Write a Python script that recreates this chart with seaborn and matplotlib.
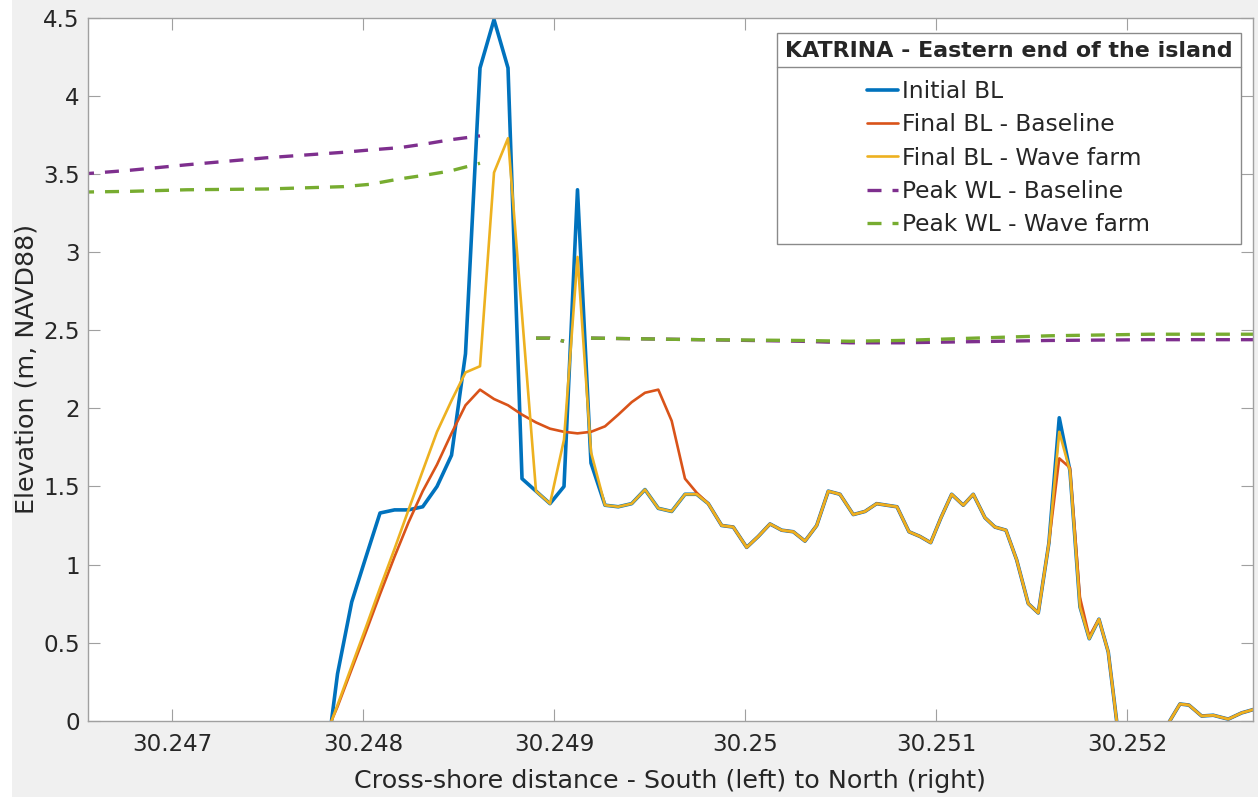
import numpy as np
import pandas as pd
import matplotlib
matplotlib.use("Agg")
import matplotlib.pyplot as plt
from matplotlib.lines import Line2D
from matplotlib.patches import Rectangle
from matplotlib.ticker import FuncFormatter, MultipleLocator
import seaborn as sns

# Cross-shore positions of the bed-level profile (latitude)
x_bl = [30.2477932, 30.2478665, 30.2479408, 30.2480157, 30.2480890, 30.2481649,
        30.2482382, 30.2483126, 30.2483874, 30.2484634, 30.2485366, 30.2486126,
        30.2486859, 30.2487592, 30.2488325, 30.2489058, 30.2489791, 30.2490524,
        30.2491230, 30.2491937, 30.2492670, 30.2493366, 30.2494068, 30.2494764,
        30.2495461, 30.2496162, 30.2496859, 30.2497471, 30.2498079, 30.2498780,
        30.2499387, 30.2500089, 30.2500696, 30.2501309, 30.2501921, 30.2502529,
        30.2503141, 30.2503754, 30.2504361, 30.2504974, 30.2505670, 30.2506283,
        30.2506895, 30.2507419, 30.2507958, 30.2508586, 30.2509162, 30.2509723,
        30.2510262, 30.2510822, 30.2511429, 30.2511953, 30.2512565, 30.2513089,
        30.2513665, 30.2514225, 30.2514832, 30.2515356, 30.2515916, 30.2516455,
        30.2517016, 30.2517539, 30.2518026, 30.2518534, 30.2519021, 30.2519529,
        30.2520079, 30.2520628, 30.2521152, 30.2521702, 30.2522225, 30.2522775,
        30.2523246, 30.2523911, 30.2524518, 30.2525304, 30.2526005, 30.2526859]

initial_bl = [-0.40, 0.30, 0.76, 1.05, 1.33, 1.35, 1.35, 1.37, 1.50, 1.70, 2.35, 4.18,
              4.49, 4.18, 1.55, 1.47, 1.39, 1.50, 3.40, 1.65, 1.38, 1.37, 1.39, 1.48,
              1.36, 1.34, 1.45, 1.45, 1.39, 1.25, 1.24, 1.11, 1.18, 1.26, 1.22, 1.21,
              1.15, 1.25, 1.47, 1.45, 1.32, 1.34, 1.39, 1.38, 1.37, 1.21, 1.18, 1.14,
              1.30, 1.45, 1.38, 1.45, 1.30, 1.24, 1.22, 1.03, 0.75, 0.69, 1.14, 1.94,
              1.60, 0.73, 0.525, 0.65, 0.44, -0.07, -0.25, -0.35, -0.30, -0.20, -0.005, 0.107,
              0.10, 0.03, 0.035, 0.01, 0.05, 0.08]

final_bl_baseline = [-0.12, 0.09, 0.33, 0.57, 0.81, 1.05, 1.27, 1.47, 1.64, 1.84, 2.02, 2.12,
                     2.06, 2.02, 1.96, 1.91, 1.87, 1.85, 1.84, 1.85, 1.885, 1.96, 2.04, 2.10,
                     2.12, 1.92, 1.55, 1.46, 1.39, 1.25, 1.24, 1.11, 1.18, 1.26, 1.22, 1.21,
                     1.15, 1.25, 1.47, 1.45, 1.32, 1.34, 1.39, 1.38, 1.37, 1.21, 1.18, 1.14,
                     1.30, 1.45, 1.38, 1.45, 1.30, 1.24, 1.22, 1.03, 0.75, 0.69, 1.14, 1.68,
                     1.62, 0.79, 0.54, 0.65, 0.44, -0.07, -0.25, -0.35, -0.30, -0.20, -0.005, 0.107,
                     0.10, 0.03, 0.035, 0.01, 0.05, 0.08]

final_bl_wavefarm = [-0.14, 0.10, 0.35, 0.60, 0.85, 1.10, 1.35, 1.60, 1.85, 2.05, 2.23, 2.27,
                     3.51, 3.73, 2.60, 1.47, 1.39, 1.80, 2.97, 1.72, 1.38, 1.37, 1.39, 1.48,
                     1.36, 1.34, 1.45, 1.45, 1.39, 1.25, 1.24, 1.11, 1.18, 1.26, 1.22, 1.21,
                     1.15, 1.25, 1.47, 1.45, 1.32, 1.34, 1.39, 1.38, 1.37, 1.21, 1.18, 1.14,
                     1.30, 1.45, 1.38, 1.45, 1.30, 1.24, 1.22, 1.03, 0.75, 0.69, 1.14, 1.85,
                     1.60, 0.73, 0.525, 0.65, 0.44, -0.07, -0.25, -0.35, -0.30, -0.20, -0.005, 0.107,
                     0.10, 0.03, 0.035, 0.01, 0.05, 0.08]

# Peak water level, stored as wet segments (dry crest points are left out)
x_wl = [30.2465183, 30.2467801, 30.2470770, 30.2474958, 30.2478969, 30.2480366,
        30.2481937, 30.2483335, 30.2484555, 30.2486126,
        30.2489058, 30.2489791, 30.2490524,
        30.2491937, 30.2497644, 30.2502880, 30.2505497, 30.2508115, 30.2510733,
        30.2513351, 30.2515969, 30.2521204, 30.2526859]
wl_segment = [0] * 10 + [1] * 3 + [2] * 10
peak_wl_baseline = [3.50, 3.525, 3.56, 3.605, 3.64, 3.655, 3.67, 3.695, 3.72, 3.745,
                    2.45, 2.45, 2.43,
                    2.45, 2.44, 2.43, 2.42, 2.42, 2.425, 2.43, 2.435, 2.44, 2.44]
peak_wl_wavefarm = [3.385, 3.39, 3.40, 3.405, 3.42, 3.435, 3.47, 3.495, 3.52, 3.57,
                    2.45, 2.45, 2.43,
                    2.45, 2.44, 2.435, 2.43, 2.435, 2.445, 2.455, 2.465, 2.475, 2.475]

labels = ["Initial BL", "Final BL - Baseline", "Final BL - Wave farm",
          "Peak WL - Baseline", "Peak WL - Wave farm"]
colors = ["#0072BD", "#D95319", "#EDB120", "#7E2F8E", "#77AC30"]
x_ticks = [30.247, 30.248, 30.249, 30.250, 30.251, 30.252]

sns.set_style("white")
plt.rcParams.update({
    "font.family": ["DejaVu Sans"],
    "axes.edgecolor": "#a0a0a0",
    "axes.linewidth": 1.0,
    "xtick.direction": "in",
    "ytick.direction": "in",
    "xtick.top": True,
    "ytick.right": True,
    "xtick.bottom": True,
    "ytick.left": True,
})

fig = plt.figure(figsize=(12.58, 7.99), dpi=100, facecolor="white")
# grey window background (a thin white margin stays at the left and bottom)
fig.patches.append(Rectangle((12 / 1258, 2 / 799), 1, 1, transform=fig.transFigure,
                             facecolor="#f0f0f0", edgecolor="none", zorder=-10))
ax = fig.add_axes([88 / 1258, 78.3 / 799, 1165 / 1258, 702.7 / 799])
ax.set_facecolor("white")

bl_series = [initial_bl, final_bl_baseline, final_bl_wavefarm]
bl_widths = [2.6, 1.9, 1.9]
for vals, col, lw in zip(bl_series, colors[:3], bl_widths):
    sns.lineplot(x=x_bl, y=vals, color=col, linewidth=lw, sort=False,
                 estimator=None, legend=False, ax=ax)

dash = (4.2, 3.3)
for vals, col in zip([peak_wl_baseline, peak_wl_wavefarm], colors[3:]):
    wl = pd.DataFrame({"x": x_wl, "wl": vals, "seg": wl_segment})
    n0 = len(ax.lines)
    sns.lineplot(data=wl, x="x", y="wl", units="seg", estimator=None, sort=False,
                 color=col, linewidth=2.4, legend=False, ax=ax)
    for ln in ax.lines[n0:]:
        ln.set_dashes(dash)

ax.set_xlim(30.24656, 30.25266)
ax.set_ylim(0, 4.5)
ax.set_xticks(x_ticks)
ax.yaxis.set_major_locator(MultipleLocator(0.5))
ax.xaxis.set_major_formatter(FuncFormatter(lambda v, p: f"{v:g}"))
ax.yaxis.set_major_formatter(FuncFormatter(lambda v, p: f"{v:g}"))
ax.tick_params(axis="both", which="major", length=8.5, width=0.8, color="#a0a0a0",
               labelcolor="#262626", labelsize=16.6)
ax.tick_params(axis="x", pad=9)
ax.tick_params(axis="y", pad=6)

ax.set_xlabel("Cross-shore distance - South (left) to North (right)",
              fontsize=18.3, color="#262626", labelpad=9)
ax.set_ylabel("Elevation (m, NAVD88)", fontsize=18.3, color="#262626", labelpad=3)
for s in ax.spines.values():
    s.set_visible(True)
    s.set_color("#a0a0a0")

handles = [Line2D([], [], color=colors[0], lw=2.6),
           Line2D([], [], color=colors[1], lw=1.9),
           Line2D([], [], color=colors[2], lw=1.9),
           Line2D([], [], color=colors[3], lw=2.4, dashes=dash),
           Line2D([], [], color=colors[4], lw=2.4, dashes=dash)]
leg_fs = 16.8
leg_spacing = 0.445
leg = ax.legend(handles=handles, labels=labels,
                title="KATRINA - Eastern end of the island",
                loc="upper right", bbox_to_anchor=(0.9895, 0.9784), borderaxespad=0,
                frameon=True, fancybox=False, alignment="center", fontsize=leg_fs,
                title_fontproperties={"weight": "bold", "size": 15.9},
                handlelength=1.3, handletextpad=0.2, labelspacing=leg_spacing,
                borderpad=0.35)
# a little more room between the title and the entries
if hasattr(leg, "_legend_box"):
    leg._legend_box.sep = leg_spacing * leg_fs + 5.8
frame = leg.get_frame()
frame.set_edgecolor("#8a8a8a")
frame.set_linewidth(1.0)
frame.set_facecolor("white")
frame.set_alpha(1)

# separator under the legend title
fig.canvas.draw()
renderer = fig.canvas.get_renderer()
fb = frame.get_window_extent(renderer)
tb = leg.get_title().get_window_extent(renderer)
y_sep = tb.y0 - 5.5
inv = fig.transFigure.inverted()
(x0f, yf), (x1f, _) = inv.transform([(fb.x0, y_sep), (fb.x1, y_sep)])
fig.add_artist(Line2D([x0f, x1f], [yf, yf], color="#8a8a8a", lw=1.0,
                      transform=fig.transFigure, zorder=10))

fig.savefig("out.png", dpi=100, facecolor=fig.get_facecolor())
